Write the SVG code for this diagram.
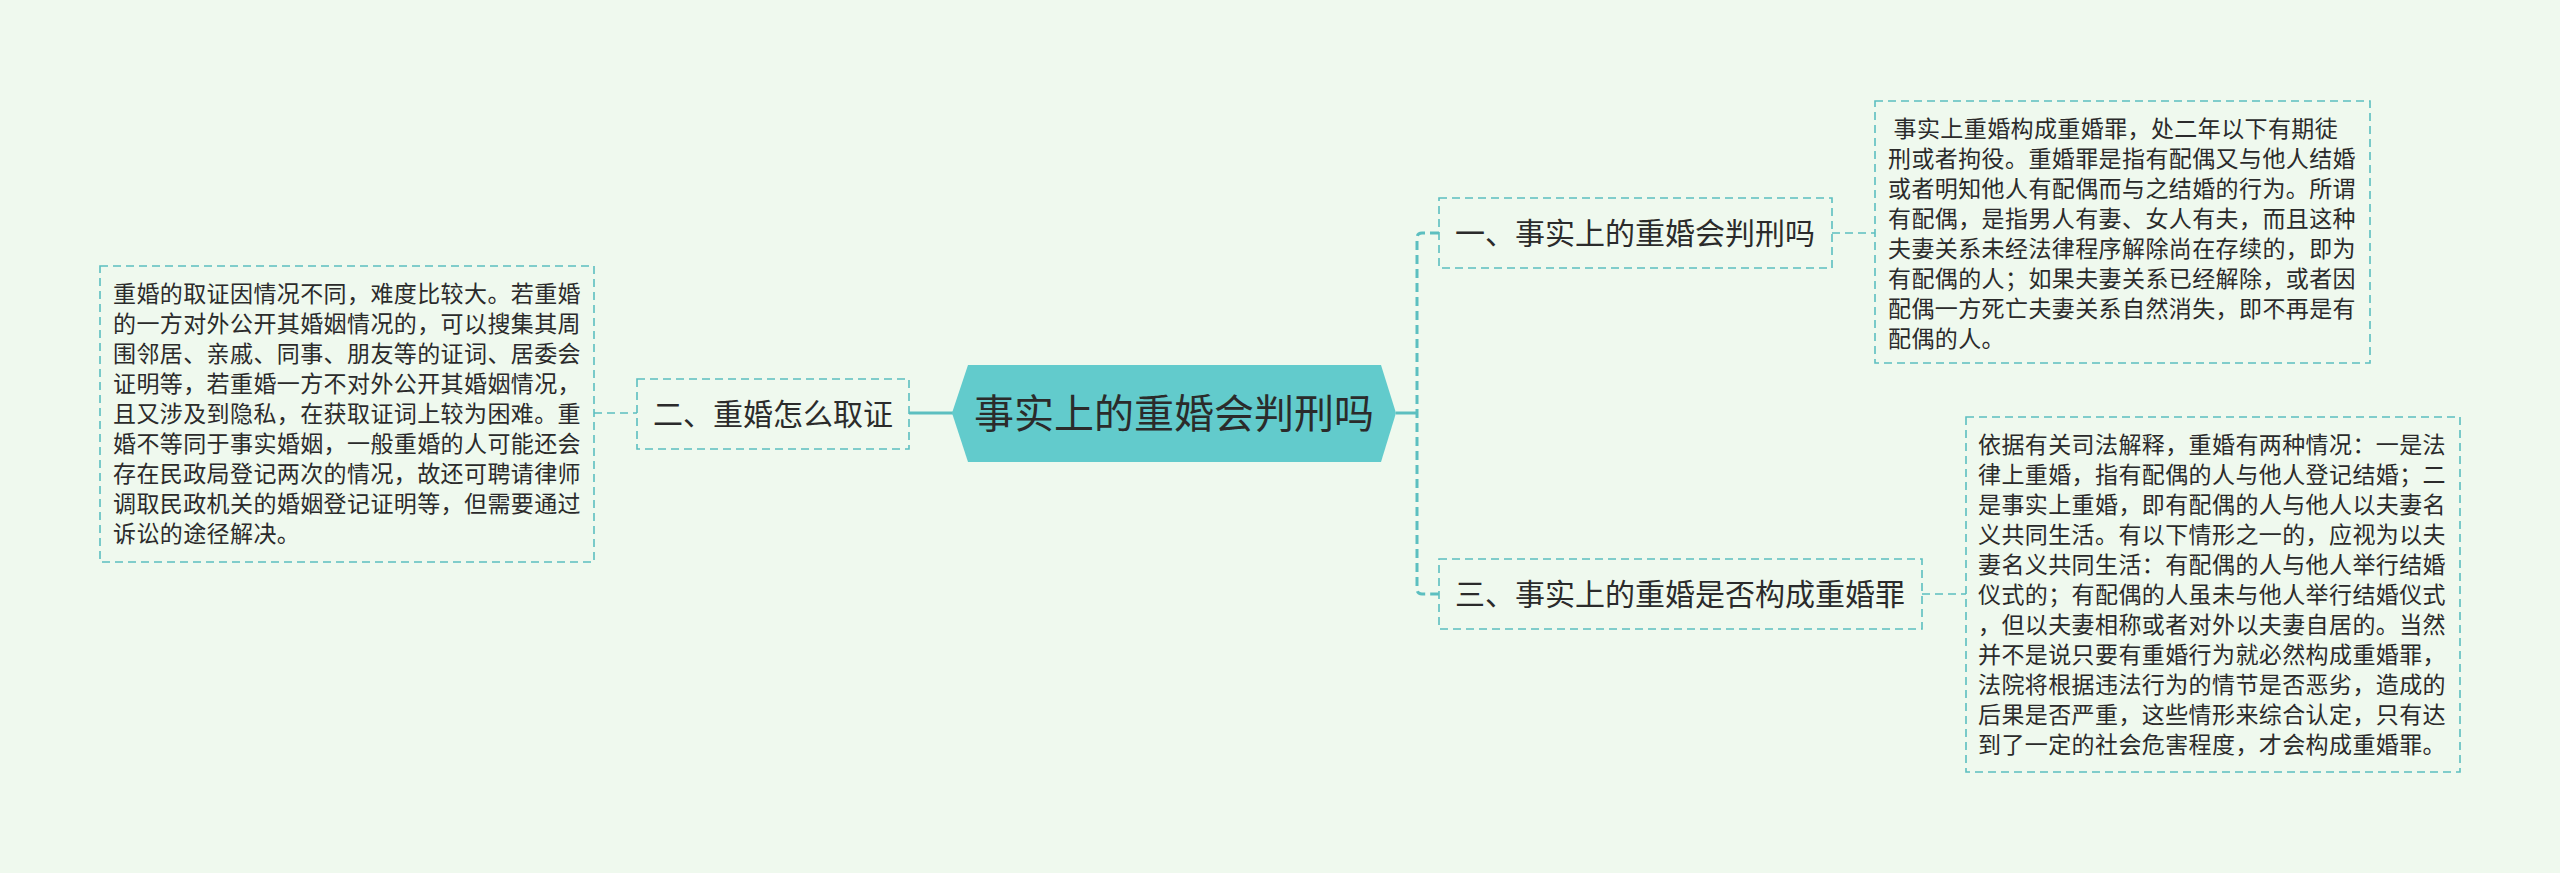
<svg xmlns="http://www.w3.org/2000/svg" width="2560" height="873" viewBox="0 0 2560 873">
<style>
.bg{fill:#eff9ee}
.box{fill:none;stroke:#5cbfc0;stroke-width:1.6;stroke-dasharray:8 5}
.thin{fill:none;stroke:#5cbfc0;stroke-width:1.6;stroke-dasharray:8 5}
.trunk{fill:none;stroke:#5cbfc0;stroke-width:3;stroke-dasharray:9 5}
.solid{fill:none;stroke:#5cbfc0;stroke-width:3}
.hex{fill:#62cbcc}
.t{font-family:"Noto Sans CJK SC","Noto Sans",sans-serif;fill:#2b2b2b}
.body{font-size:23px;letter-spacing:0.4px}
.head{font-size:30px;text-anchor:middle}
.root{font-size:40px;text-anchor:middle}
</style>
<rect class="bg" x="0" y="0" width="2560" height="873"/>
<g id="connectors">
<line class="solid" x1="909" y1="413" x2="953" y2="413"/>
<line class="thin" x1="594" y1="413" x2="637" y2="413"/>
<line class="solid" x1="1396" y1="413" x2="1417" y2="413"/>
<path class="trunk" d="M1439,233 H1422 Q1417,233 1417,238 V589 Q1417,594 1422,594 H1439"/>
<line class="thin" x1="1832" y1="233" x2="1875" y2="233"/>
<line class="thin" x1="1922" y1="594" x2="1966" y2="594"/>
</g>
<g id="root">
<polygon class="hex" points="952,413 968,365 1381,365 1396,413 1381,462 968,462"/>
<text class="t root" x="1174" y="428">事实上的重婚会判刑吗</text>
</g>
<g id="n2">
<rect class="box" x="637" y="379" width="272" height="70"/>
<text class="t head" x="773" y="425">二、重婚怎么取证</text>
</g>
<g id="n2d">
<rect class="box" x="100" y="266" width="494" height="296"/>
<text class="t body" x="113" y="301.5">重婚的取证因情况不同，难度比较大。若重婚</text>
<text class="t body" x="113" y="331.5">的一方对外公开其婚姻情况的，可以搜集其周</text>
<text class="t body" x="113" y="361.5">围邻居、亲戚、同事、朋友等的证词、居委会</text>
<text class="t body" x="113" y="391.5">证明等，若重婚一方不对外公开其婚姻情况，</text>
<text class="t body" x="113" y="421.5">且又涉及到隐私，在获取证词上较为困难。重</text>
<text class="t body" x="113" y="451.5">婚不等同于事实婚姻，一般重婚的人可能还会</text>
<text class="t body" x="113" y="481.5">存在民政局登记两次的情况，故还可聘请律师</text>
<text class="t body" x="113" y="511.5">调取民政机关的婚姻登记证明等，但需要通过</text>
<text class="t body" x="113" y="541.5">诉讼的途径解决。</text>
</g>
<g id="n1">
<rect class="box" x="1439" y="198" width="393" height="70"/>
<text class="t head" x="1635" y="244">一、事实上的重婚会判刑吗</text>
</g>
<g id="n1d">
<rect class="box" x="1875" y="101" width="495" height="262"/>
<text class="t body" x="1888" y="136.5" xml:space="preserve"> 事实上重婚构成重婚罪，处二年以下有期徒</text>
<text class="t body" x="1888" y="166.5">刑或者拘役。重婚罪是指有配偶又与他人结婚</text>
<text class="t body" x="1888" y="196.5">或者明知他人有配偶而与之结婚的行为。所谓</text>
<text class="t body" x="1888" y="226.5">有配偶，是指男人有妻、女人有夫，而且这种</text>
<text class="t body" x="1888" y="256.5">夫妻关系未经法律程序解除尚在存续的，即为</text>
<text class="t body" x="1888" y="286.5">有配偶的人；如果夫妻关系已经解除，或者因</text>
<text class="t body" x="1888" y="316.5">配偶一方死亡夫妻关系自然消失，即不再是有</text>
<text class="t body" x="1888" y="346.5">配偶的人。</text>
</g>
<g id="n3">
<rect class="box" x="1439" y="559" width="483" height="70"/>
<text class="t head" x="1680" y="605">三、事实上的重婚是否构成重婚罪</text>
</g>
<g id="n3d">
<rect class="box" x="1966" y="417" width="494" height="355"/>
<text class="t body" x="1978" y="452.5">依据有关司法解释，重婚有两种情况：一是法</text>
<text class="t body" x="1978" y="482.5">律上重婚，指有配偶的人与他人登记结婚；二</text>
<text class="t body" x="1978" y="512.5">是事实上重婚，即有配偶的人与他人以夫妻名</text>
<text class="t body" x="1978" y="542.5">义共同生活。有以下情形之一的，应视为以夫</text>
<text class="t body" x="1978" y="572.5">妻名义共同生活：有配偶的人与他人举行结婚</text>
<text class="t body" x="1978" y="602.5">仪式的；有配偶的人虽未与他人举行结婚仪式</text>
<text class="t body" x="1978" y="632.5">，但以夫妻相称或者对外以夫妻自居的。当然</text>
<text class="t body" x="1978" y="662.5">并不是说只要有重婚行为就必然构成重婚罪，</text>
<text class="t body" x="1978" y="692.5">法院将根据违法行为的情节是否恶劣，造成的</text>
<text class="t body" x="1978" y="722.5">后果是否严重，这些情形来综合认定，只有达</text>
<text class="t body" x="1978" y="752.5">到了一定的社会危害程度，才会构成重婚罪。</text>
</g>
</svg>
